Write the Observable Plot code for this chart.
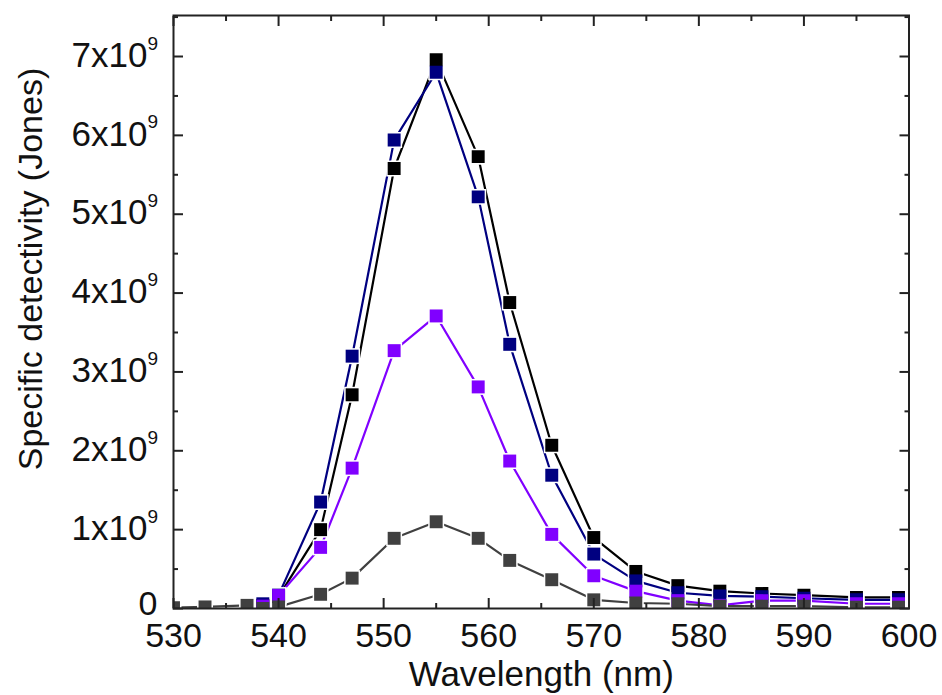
<!DOCTYPE html>
<html><head><meta charset="utf-8">
<script src="https://cdn.jsdelivr.net/npm/d3@7"></script>
<script src="https://cdn.jsdelivr.net/npm/@observablehq/plot@0.6"></script>
<style>body{margin:0;background:#fff}</style>
</head><body><div id="chart"></div>
<script>
// Wavelength (nm) of the measured points
const wavelength = [530, 533, 537, 538.5, 540, 544, 547, 551, 555, 559, 562, 566, 570, 574, 578, 582, 586, 590, 595, 599];
// Specific detectivity (Jones) per series; null = no point
const seriesBlack  = [null, null, null, 0.04e9, 0.15e9, 1.00e9, 2.71e9, 5.58e9, 6.96e9, 5.73e9, 3.88e9, 2.07e9, 0.90e9, 0.47e9, 0.29e9, 0.22e9, 0.19e9, 0.17e9, 0.14e9, 0.14e9];
const seriesNavy   = [null, null, null, 0.06e9, 0.17e9, 1.35e9, 3.20e9, 5.94e9, 6.80e9, 5.22e9, 3.35e9, 1.69e9, 0.69e9, 0.35e9, 0.20e9, 0.16e9, 0.15e9, 0.13e9, 0.11e9, 0.11e9];
const seriesPurple = [null, null, null, 0.03e9, 0.165e9, 0.775e9, 1.78e9, 3.27e9, 3.71e9, 2.81e9, 1.87e9, 0.94e9, 0.415e9, 0.22e9, 0.10e9, 0.04e9, 0.10e9, 0.10e9, 0.06e9, 0.06e9];
const seriesGray   = [0.01e9, 0.02e9, 0.04e9, 0.0e9, 0.02e9, 0.18e9, 0.385e9, 0.89e9, 1.10e9, 0.89e9, 0.61e9, 0.365e9, 0.11e9, 0.07e9, 0.06e9, 0.03e9, 0.03e9, 0.03e9, 0.015e9, 0.015e9];

const seriesNames = ["S1", "S2", "S3", "S4"];
const seriesColors = ["#000000", "#000080", "#8000ff", "#404040"];
const seriesValues = [seriesBlack, seriesNavy, seriesPurple, seriesGray];

const xMajorTicks = [530, 540, 550, 560, 570, 580, 590, 600];
const xMinorTicks = [535, 545, 555, 565, 575, 585, 595];
const xTickLabels = ["530", "540", "550", "560", "570", "580", "590", "600"];
const yMajorTicks = [0, 1e9, 2e9, 3e9, 4e9, 5e9, 6e9, 7e9];
const yMinorTicks = [0.5e9, 1.5e9, 2.5e9, 3.5e9, 4.5e9, 5.5e9, 6.5e9, 7.5e9];
const yTickMantissa = ["0", "1x10", "2x10", "3x10", "4x10", "5x10", "6x10", "7x10"];
const yTickExponent = ["", "9", "9", "9", "9", "9", "9", "9"];
const xTitle = "Wavelength (nm)";
const yTitle = "Specific detectivity (Jones)";

const rows = [];
seriesNames.forEach((s, i) => {
  wavelength.forEach((w, j) => {
    const v = seriesValues[i][j];
    if (v != null) rows.push({series: s, x: w, y: v});
  });
});

const yPowIdx = yMajorTicks.map((d, i) => i).filter(i => yTickExponent[i] !== "");
const axisColor = "#222";
const tickOpts = {tickFormat: () => "", label: null, stroke: axisColor, strokeWidth: 2};

const chart = Plot.plot({
  width: 942, height: 695,
  marginLeft: 173, marginRight: 33.5, marginTop: 15, marginBottom: 87,
  x: {domain: [530, 600], axis: null},
  y: {domain: [0, 7.52e9], axis: null},
  color: {domain: seriesNames, range: seriesColors},
  style: {fontFamily: "'Liberation Sans', Arial, sans-serif", background: "#fff", color: "#111"},
  marks: [
    Plot.line(rows, {x: "x", y: "y", z: "series", stroke: "series", strokeWidth: 2.2, clip: true}),
    Plot.dot(rows, {x: "x", y: "y", symbol: "square", r: 9, fill: "white", stroke: "none", clip: true}),
    Plot.dot(rows, {x: "x", y: "y", symbol: "square", r: 7.3, fill: "series", stroke: "none", clip: true}),
    // inward ticks on all four sides
    Plot.axisX({anchor: "bottom", ticks: xMajorTicks, tickSize: -10, ...tickOpts}),
    Plot.axisX({anchor: "bottom", ticks: xMinorTicks, tickSize: -5, ...tickOpts}),
    Plot.axisX({anchor: "top", ticks: xMajorTicks, tickSize: -10, ...tickOpts}),
    Plot.axisX({anchor: "top", ticks: xMinorTicks, tickSize: -5, ...tickOpts}),
    Plot.axisY({anchor: "left", ticks: yMajorTicks, tickSize: -10, ...tickOpts}),
    Plot.axisY({anchor: "left", ticks: yMinorTicks, tickSize: -5, ...tickOpts}),
    Plot.axisY({anchor: "right", ticks: yMajorTicks, tickSize: -10, ...tickOpts}),
    Plot.axisY({anchor: "right", ticks: yMinorTicks, tickSize: -5, ...tickOpts}),
    Plot.frame({stroke: axisColor, strokeWidth: 2}),
    // x tick labels
    Plot.text(xMajorTicks, {x: d => d, text: (d, i) => xTickLabels[i], frameAnchor: "bottom", dy: 28, textAnchor: "middle", lineAnchor: "middle", fontSize: 34, fill: "#111"}),
    // y tick labels
    Plot.text([0], {y: d => d, text: [yTickMantissa[0]], frameAnchor: "left", dx: -16, dy: -4, textAnchor: "end", lineAnchor: "middle", fontSize: 34, fill: "#111"}),
    Plot.text(yPowIdx, {y: i => yMajorTicks[i], text: i => yTickMantissa[i], frameAnchor: "left", dx: -26, dy: -1, textAnchor: "end", lineAnchor: "middle", fontSize: 35, fill: "#111"}),
    Plot.text(yPowIdx, {y: i => yMajorTicks[i], text: i => yTickExponent[i], frameAnchor: "left", dx: -26, dy: -13, textAnchor: "start", lineAnchor: "middle", fontSize: 19, fill: "#111"}),
    // axis titles
    Plot.text([xTitle], {frameAnchor: "bottom", dy: 66, textAnchor: "middle", lineAnchor: "middle", fontSize: 35, fill: "#111"}),
    Plot.text([yTitle], {frameAnchor: "left", dx: -142, dy: -43, rotate: -90, textAnchor: "middle", lineAnchor: "middle", fontSize: 34, fill: "#111"})
  ]
});
document.getElementById("chart").appendChild(chart);
</script>
</body></html>
